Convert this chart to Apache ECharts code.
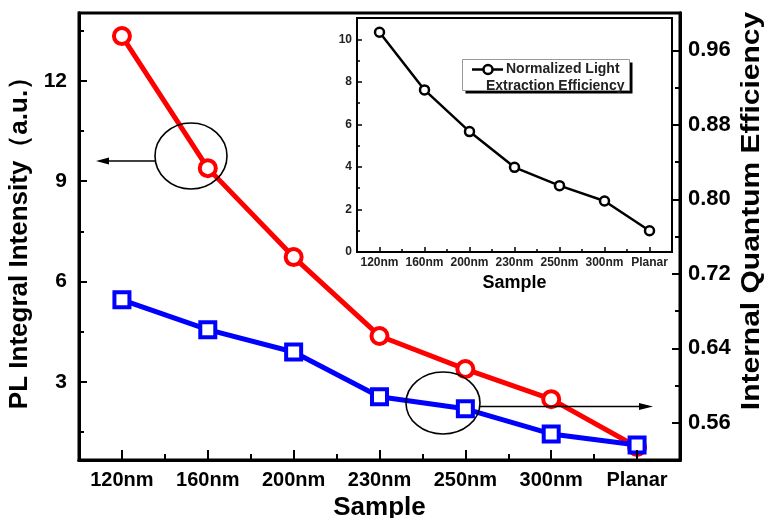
<!DOCTYPE html>
<html><head><meta charset="utf-8">
<script src="https://cdn.jsdelivr.net/npm/echarts@6/dist/echarts.min.js"></script>
<style>html,body{margin:0;padding:0;background:#fff}#c{width:766px;height:518px}</style>
</head><body><div id="c"></div>
<script>
const categories = ['120nm', '160nm', '200nm', '230nm', '250nm', '300nm', 'Planar'];
const plIntensity = [13.34, 9.39, 6.73, 4.37, 3.38, 2.48, 1.05];
const iqe = [0.692, 0.660, 0.636, 0.588, 0.575, 0.548, 0.536];
const leeNormalized = [10.33, 7.62, 5.66, 3.98, 3.12, 2.40, 1.00];
const leftTicks = [3, 6, 9, 12];
const leftMinorTicks = [1.5, 4.5, 7.5, 10.5, 13.5];
const rightTicks = [0.56, 0.64, 0.72, 0.80, 0.88, 0.96];
const rightMinorTicks = [0.60, 0.68, 0.76, 0.84, 0.92];
const insetTicks = [0, 2, 4, 6, 8, 10];
const insetMinorTicks = [1, 3, 5, 7, 9];

const FF = '"Liberation Sans", Arial, Helvetica, sans-serif';
const tickStyle = { color: '#000', width: 2 };
const mainLine = { show: true, lineStyle: { color: '#000', width: 3 } };
const insetLine = { show: true, lineStyle: { color: '#000', width: 2 } };
const chart = echarts.init(document.getElementById('c'), null, { renderer: 'canvas' });

const option = {
  animation: false,
  backgroundColor: '#fff',
  textStyle: { fontFamily: FF },
  grid: [
    { left: 79, top: 13, width: 601, height: 447, outerBoundsMode: 'none', containLabel: false, show: true, borderColor: '#000', borderWidth: 3, backgroundColor: 'transparent', z: 0 },
    { left: 357, top: 18, width: 315, height: 234, outerBoundsMode: 'none', containLabel: false, show: true, borderColor: '#000', borderWidth: 2, backgroundColor: '#fff', z: 1 }
  ],
  xAxis: [
    { type: 'category', gridIndex: 0, data: categories, boundaryGap: true, z: 5,
      axisLine: mainLine,
      axisTick: { show: true, alignWithLabel: true, inside: true, length: 10, interval: 0, lineStyle: tickStyle },
      axisLabel: { interval: 0, fontSize: 20, fontWeight: 'bold', color: '#000', margin: 10, fontFamily: FF },
      name: 'Sample', nameLocation: 'middle', nameGap: 28,
      nameTextStyle: { fontSize: 26, fontWeight: 'bold', color: '#000', fontFamily: FF } },
    { type: 'category', gridIndex: 0, data: categories, boundaryGap: true, position: 'bottom', z: 5,
      axisLine: mainLine,
      axisTick: { show: true, inside: true, length: 6, interval: 0, lineStyle: tickStyle },
      axisLabel: { show: false } },
    { type: 'category', gridIndex: 1, data: categories, boundaryGap: true, z: 6,
      axisLine: insetLine,
      axisTick: { show: true, alignWithLabel: true, inside: true, length: 5, interval: 0, lineStyle: { color: '#000', width: 1.5 } },
      axisLabel: { interval: 0, fontSize: 12, fontWeight: 'bold', color: '#222', margin: 5, fontFamily: FF },
      name: 'Sample', nameLocation: 'middle', nameGap: 22,
      nameTextStyle: { fontSize: 18, fontWeight: 'bold', color: '#000', fontFamily: FF } },
    { type: 'category', gridIndex: 1, data: categories, boundaryGap: true, position: 'bottom', z: 6,
      axisLine: insetLine,
      axisTick: { show: true, inside: true, length: 3, interval: 0, lineStyle: { color: '#000', width: 1.5 } },
      axisLabel: { show: false } }
  ],
  yAxis: [
    { type: 'value', gridIndex: 0, position: 'left', min: 0.66, max: 14.03, z: 5,
      splitLine: { show: false }, axisLine: mainLine,
      axisTick: { show: true, inside: true, length: 8, customValues: leftTicks, lineStyle: tickStyle },
      axisLabel: { customValues: leftTicks, fontSize: 21, fontWeight: 'bold', color: '#000', margin: 12, fontFamily: FF },
      name: 'PL Integral Intensity（a.u.）', nameLocation: 'middle', nameGap: 35,
      nameTextStyle: { fontSize: 26, fontWeight: 'bold', color: '#000', fontFamily: FF } },
    { type: 'value', gridIndex: 0, position: 'left', min: 0.66, max: 14.03, z: 5,
      splitLine: { show: false }, axisLine: mainLine,
      axisTick: { show: true, inside: true, length: 5, customValues: leftMinorTicks, lineStyle: tickStyle },
      axisLabel: { show: false } },
    { type: 'value', gridIndex: 0, position: 'right', min: 0.52, max: 1.0, z: 5,
      splitLine: { show: false }, axisLine: mainLine,
      axisTick: { show: true, inside: true, length: 8, customValues: rightTicks, lineStyle: tickStyle },
      axisLabel: { customValues: rightTicks, formatter: v => v.toFixed(2), fontSize: 22, fontWeight: 'bold', color: '#000', margin: 8, fontFamily: FF } },
    { type: 'value', gridIndex: 0, position: 'right', min: 0.52, max: 1.0, z: 5,
      splitLine: { show: false }, axisLine: mainLine,
      axisTick: { show: true, inside: true, length: 5, customValues: rightMinorTicks, lineStyle: tickStyle },
      axisLabel: { show: false } },
    { type: 'value', gridIndex: 1, position: 'left', min: 0, max: 11, z: 6,
      splitLine: { show: false }, axisLine: insetLine,
      axisTick: { show: true, inside: true, length: 5, customValues: insetTicks, lineStyle: { color: '#000', width: 1.5 } },
      axisLabel: { customValues: insetTicks, fontSize: 12, fontWeight: 'bold', color: '#222', margin: 5, fontFamily: FF } },
    { type: 'value', gridIndex: 1, position: 'left', min: 0, max: 11, z: 6,
      splitLine: { show: false }, axisLine: insetLine,
      axisTick: { show: true, inside: true, length: 3, customValues: insetMinorTicks, lineStyle: { color: '#000', width: 1.5 } },
      axisLabel: { show: false } }
  ],
  series: [
    { name: 'PL Integral Intensity', type: 'line', xAxisIndex: 0, yAxisIndex: 0, data: plIntensity,
      symbol: 'circle', symbolSize: 16, z: 3,
      itemStyle: { color: '#fff', borderColor: '#ff0000', borderWidth: 4 },
      lineStyle: { color: '#ff0000', width: 5 } },
    { name: 'Internal Quantum Efficiency', type: 'line', xAxisIndex: 0, yAxisIndex: 2, data: iqe,
      symbol: 'rect', symbolSize: 15, z: 4,
      itemStyle: { color: '#fff', borderColor: '#0000ff', borderWidth: 4 },
      lineStyle: { color: '#0000ff', width: 5 } },
    { name: 'Normalized Light Extraction Efficiency', type: 'line', xAxisIndex: 2, yAxisIndex: 4, data: leeNormalized,
      symbol: 'circle', symbolSize: 9, z: 7,
      itemStyle: { color: '#fff', borderColor: '#000', borderWidth: 2.5 },
      lineStyle: { color: '#000', width: 2.5 } }
  ],
  graphic: [
    { type: 'ellipse', shape: { cx: 191, cy: 156, rx: 36, ry: 33 }, style: { fill: 'none', stroke: '#000', lineWidth: 1.6 }, z: 10 },
    { type: 'line', shape: { x1: 155, y1: 161, x2: 106, y2: 161 }, style: { stroke: '#000', lineWidth: 1.6 }, z: 10 },
    { type: 'polygon', shape: { points: [[96, 161], [109, 157.5], [109, 164.5]] }, style: { fill: '#000' }, z: 10 },
    { type: 'ellipse', shape: { cx: 443, cy: 403, rx: 37, ry: 31 }, style: { fill: 'none', stroke: '#000', lineWidth: 1.6 }, z: 10 },
    { type: 'line', shape: { x1: 480, y1: 406.5, x2: 642, y2: 406.5 }, style: { stroke: '#000', lineWidth: 1.6 }, z: 10 },
    { type: 'polygon', shape: { points: [[653, 406.5], [639, 403], [639, 410]] }, style: { fill: '#000' }, z: 10 },
    { type: 'text', x: 752, y: 211, rotation: Math.PI / 2, scaleX: 1.2,
      style: { text: 'Internal Quantum Efficiency', fontSize: 25, fontWeight: 'bold', fontFamily: FF, fill: '#000', align: 'center', verticalAlign: 'middle' }, z: 10 },
    { type: 'rect', shape: { x: 465.5, y: 62.5, width: 167, height: 31 }, style: { fill: '#000' }, z: 20 },
    { type: 'rect', shape: { x: 462.5, y: 59.5, width: 167, height: 31 }, style: { fill: '#fff', stroke: '#999', lineWidth: 1 }, z: 21 },
    { type: 'line', shape: { x1: 472, y1: 69.5, x2: 503, y2: 69.5 }, style: { stroke: '#000', lineWidth: 2.5 }, z: 22 },
    { type: 'circle', shape: { cx: 488, cy: 69.5, r: 4.5 }, style: { fill: '#fff', stroke: '#000', lineWidth: 2.5 }, z: 23 },
    { type: 'text', x: 506, y: 69.5, style: { text: 'Normalized Light', fontSize: 14, fontWeight: 'bold', fontFamily: FF, fill: '#222', align: 'left', verticalAlign: 'middle' }, z: 23 },
    { type: 'text', x: 486, y: 86, style: { text: 'Extraction Efficiency', fontSize: 14, fontWeight: 'bold', fontFamily: FF, fill: '#222', align: 'left', verticalAlign: 'middle' }, z: 23 }
  ]
};
chart.setOption(option);
</script>
</body></html>
